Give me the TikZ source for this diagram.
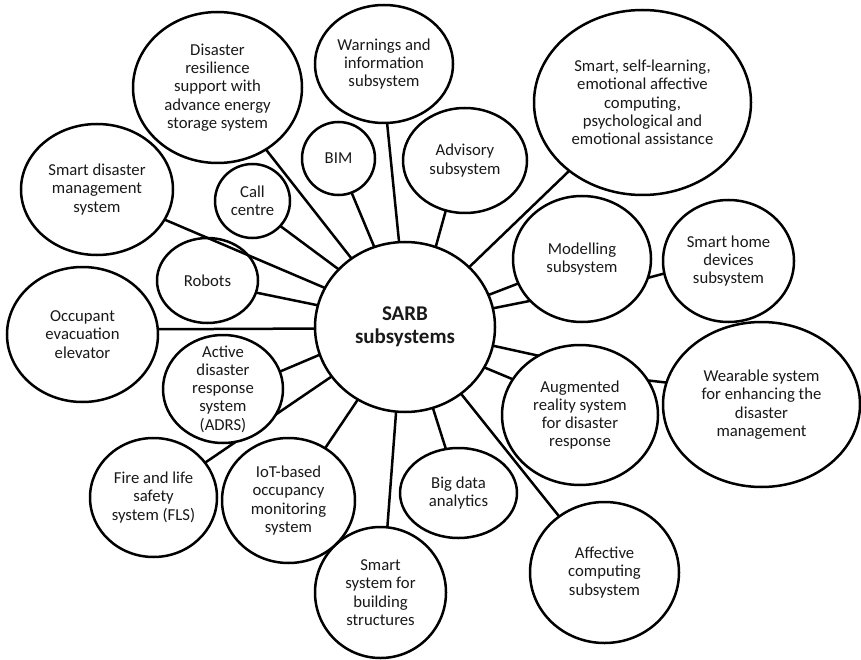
\documentclass[tikz,border=0pt]{standalone}
\usepackage{fontspec}
\setmainfont{Carlito}
\usetikzlibrary{shapes.geometric,backgrounds}
\begin{document}
\begin{tikzpicture}[x=1pt,y=-1pt,
 bub/.style={ellipse, draw=black, fill=white, line width=2.5pt, inner sep=0pt, outer sep=0pt},
 txt/.style={align=center, inner sep=0pt, font=\fontsize{16.7}{18.3}\selectfont, text=black!90},
 conn/.style={draw=black, line width=2.5pt}]
\useasboundingbox (0,0) rectangle (861,660);
% bubbles
\node[bub, minimum width=180pt, minimum height=170pt] (C) at (405,327) {};
\node[bub, minimum width=169pt, minimum height=151pt] (D) at (217.5,87.5) {};
\node[bub, minimum width=138pt, minimum height=118pt] (W) at (384,64) {};
\node[bub, minimum width=152pt, minimum height=131pt] (SD) at (97,189.5) {};
\node[bub, minimum width=75pt, minimum height=74pt] (CC) at (252.5,201) {};
\node[bub, minimum width=73pt, minimum height=73pt] (B) at (338.5,158.5) {};
\node[bub, minimum width=101pt, minimum height=85pt] (R) at (207.5,280.5) {};
\node[bub, minimum width=151pt, minimum height=135pt] (O) at (82.5,334.5) {};
\node[bub, minimum width=124pt, minimum height=105pt] (AD) at (465,160.5) {};
\node[bub, minimum width=217pt, minimum height=185pt] (SS) at (642.5,102.5) {};
\node[bub, minimum width=138pt, minimum height=126pt] (M) at (582,259) {};
\node[bub, minimum width=131pt, minimum height=122pt] (SH) at (728.5,261) {};
\node[bub, minimum width=197pt, minimum height=165pt] (WE) at (761.5,404.5) {};
\node[bub, minimum width=156pt, minimum height=140pt] (AU) at (580,415) {};
\node[bub, minimum width=117pt, minimum height=90pt] (BD) at (458.5,493) {};
\node[bub, minimum width=149pt, minimum height=141pt] (AF) at (604.5,572.5) {};
\node[bub, minimum width=131pt, minimum height=131pt] (S) at (380.5,592.5) {};
\node[bub, minimum width=133pt, minimum height=125pt] (I) at (288.5,500.5) {};
\node[bub, minimum width=127pt, minimum height=119pt] (F) at (153.5,497.5) {};
\node[bub, minimum width=120pt, minimum height=108pt] (A) at (223,389) {};
% texts
\node[txt, font=\fontsize{21}{23}\selectfont\bfseries] at (C) {SARB\\subsystems};
\node[txt] at (D) {Disaster\\resilience\\support with\\advance energy\\storage system};
\node[txt] at (W) {Warnings and\\information\\subsystem};
\node[txt] at (SD) {Smart disaster\\management\\system};
\node[txt] at (CC) {Call\\centre};
\node[txt] at (B) {BIM};
\node[txt] at (R) {Robots};
\node[txt] at (O) {Occupant\\evacuation\\elevator};
\node[txt] at (AD) {Advisory\\subsystem};
\node[txt] at (SS) {Smart, self-learning,\\emotional affective\\computing,\\psychological and\\emotional assistance};
\node[txt] at (M) {Modelling\\subsystem};
\node[txt] at (SH) {Smart home\\devices\\subsystem};
\node[txt] at (WE) {Wearable system\\for enhancing the\\disaster\\management};
\node[txt] at (AU) {Augmented\\reality system\\for disaster\\response};
\node[txt] at (BD) {Big data\\analytics};
\node[txt] at (AF) {Affective\\computing\\subsystem};
\node[txt] at (S) {Smart\\system for\\building\\structures};
\node[txt] at (I) {IoT-based\\occupancy\\monitoring\\system};
\node[txt] at (F) {Fire and life\\safety\\system (FLS)};
\node[txt] at (A) {Active\\disaster\\response\\system\\(ADRS)};
% connectors
\begin{scope}[on background layer]
\fill[white] (0,0) rectangle (861,660);
\draw[conn] (C.128.2) -- (D.308.9);
\draw[conn] (C.94.6) -- (W.273.8);
\draw[conn] (C.111.3) -- (B.291.7);
\draw[conn] (C.139.5) -- (CC.318.5);
\draw[conn] (C.166) -- (R.346.1);
\draw[conn] (C.181.3) -- (O.4.2);
\draw[conn] (C.198.2) -- (A.17.9);
\draw[conn] (C.214.9) -- (F.34.6);
\draw[conn] (C.237.4) -- (I.55.7);
\draw[conn] (C.264.7) -- (S.84.5);
\draw[conn] (C.289.1) -- (BD.106.7);
\draw[conn] (C.310) -- (AF.129);
\draw[conn] (C.348.4) -- (AU.125);
\draw[conn] (C.333.4) -- (AU.152.8);
\draw[conn] (AU.27.6) -- (WE.167.3);
\draw[conn] (C.21.8) -- (M.201.8);
\draw[conn] (C.12.8) -- (M.219);
\draw[conn] (M.344.7) -- (SH.191.2);
\draw[conn] (C.69.9) -- (AD.249.1);
\draw[conn] (C.43.6) -- (SS.223);
\end{scope}
\draw[conn] (C.154.6) -- (SD.336.5);
\end{tikzpicture}
\end{document}
